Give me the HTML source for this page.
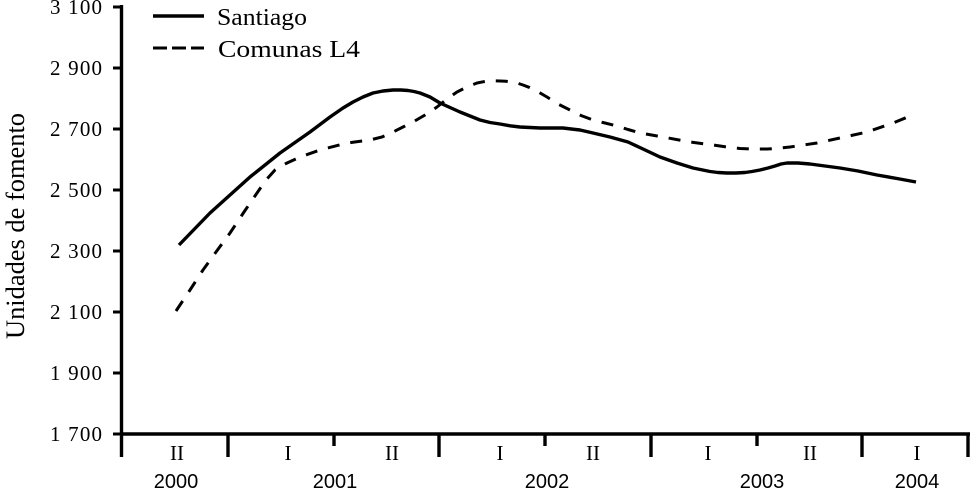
<!DOCTYPE html>
<html><head><meta charset="utf-8"><style>
html,body{margin:0;padding:0;background:#fff;}
svg{display:block;}
</style></head><body>
<svg width="970" height="490" viewBox="0 0 970 490" xmlns="http://www.w3.org/2000/svg">
<g stroke="#000" fill="none">
  <line x1="121.5" y1="5" x2="121.5" y2="457" stroke-width="3.4"/>
  <line x1="120" y1="434" x2="970" y2="434" stroke-width="3.4"/>
  <g stroke-width="3">
    <line x1="113" y1="7" x2="122" y2="7"/>
    <line x1="113" y1="68" x2="122" y2="68"/>
    <line x1="113" y1="129" x2="122" y2="129"/>
    <line x1="113" y1="190" x2="122" y2="190"/>
    <line x1="113" y1="251" x2="122" y2="251"/>
    <line x1="113" y1="312" x2="122" y2="312"/>
    <line x1="113" y1="373" x2="122" y2="373"/>
    <line x1="113" y1="434" x2="122" y2="434"/>
  </g>
  <g stroke-width="3.4">
    <line x1="228" y1="434" x2="228" y2="457"/>
    <line x1="334" y1="434" x2="334" y2="446"/>
    <line x1="439" y1="434" x2="439" y2="457"/>
    <line x1="545" y1="434" x2="545" y2="446"/>
    <line x1="651" y1="434" x2="651" y2="457"/>
    <line x1="757" y1="434" x2="757" y2="446"/>
    <line x1="862" y1="434" x2="862" y2="457"/>
    <line x1="968" y1="434" x2="968" y2="457"/>
  </g>
  <line x1="153" y1="16" x2="204" y2="16" stroke-width="3.4"/>
  <line x1="153" y1="48" x2="204" y2="48" stroke-width="3" stroke-dasharray="14 5"/>
  <polyline stroke-width="3.4" stroke-linejoin="round" stroke-linecap="butt" points="179,245 210,213 250,177 280,153 310,132 330,117 343,108 353,102 363,97 373,93 383,91 393,90 401,90 408,90.5 414,91.5 420,93 430,97 440,103 460,112 480,120 490,122.5 500,124 510,125.8 520,127 540,128 563,128 580,130 593,133 610,137 628,142 643,149 660,157 677,163 693,168 710,171.5 718,172.5 727,173 736,173 745,172.5 752,171.5 760,170 768,168 775,166 781,164 787,163 798,163 810,164 825,166 840,168 858,171 877,175 897,178.5 916,182"/>
  <polyline stroke-width="3" stroke-linejoin="round" stroke-dasharray="12 11" points="176,311 190,290 203,270 216,252 230,233 244,212 257,193 266,180 275,170 281,166 287,163 300,157 320,150 347,143 370,140 382,137 393,132 403,127 413,122 425,115 437,107 447,99 457,92 467,87 477,83 483,81.8 488,81 494,80.8 500,81 506,81.3 512,82 518,83.3 523,85 529,87.3 535,90 547,97 558,104 570,110 581,115.5 593,120 605,123 617,126 628,129.5 640,133 663,137 690,142 713,145 727,147 740,148.5 753,149 767,149 778,148.3 790,147 817,143 840,138 867,132 893,123 915,114"/>
</g>
<g font-family="'Liberation Serif', serif" font-size="21" fill="#000" text-anchor="end">
  <text x="102" y="14" textLength="52" lengthAdjust="spacing">3 100</text>
  <text x="102" y="75" textLength="52" lengthAdjust="spacing">2 900</text>
  <text x="102" y="136" textLength="52" lengthAdjust="spacing">2 700</text>
  <text x="102" y="197" textLength="52" lengthAdjust="spacing">2 500</text>
  <text x="102" y="258" textLength="52" lengthAdjust="spacing">2 300</text>
  <text x="102" y="319" textLength="52" lengthAdjust="spacing">2 100</text>
  <text x="102" y="380" textLength="52" lengthAdjust="spacing">1 900</text>
  <text x="102" y="441" textLength="52" lengthAdjust="spacing">1 700</text>
</g>
<text transform="translate(24,226) rotate(-90)" x="0" y="0" text-anchor="middle" font-family="'Liberation Serif', serif" font-size="26" fill="#000" textLength="226" lengthAdjust="spacingAndGlyphs">Unidades de fomento</text>
<g font-family="'Liberation Serif', serif" font-size="24" fill="#000">
  <text x="217" y="25" textLength="90" lengthAdjust="spacingAndGlyphs">Santiago</text>
  <text x="218" y="57" textLength="142" lengthAdjust="spacingAndGlyphs">Comunas L4</text>
</g>
<g font-family="'Liberation Serif', serif" font-size="21" fill="#000" text-anchor="middle">
  <text x="177" y="460">II</text>
  <text x="288" y="460">I</text>
  <text x="392" y="460">II</text>
  <text x="500" y="460">I</text>
  <text x="593" y="460">II</text>
  <text x="708" y="460">I</text>
  <text x="810" y="460">II</text>
  <text x="917" y="460">I</text>
</g>
<g font-family="'Liberation Sans', sans-serif" font-size="20" fill="#000" text-anchor="middle">
  <text x="176" y="488">2000</text>
  <text x="335" y="488">2001</text>
  <text x="547" y="488">2002</text>
  <text x="762" y="488">2003</text>
  <text x="917" y="488">2004</text>
</g>
</svg>
</body></html>
